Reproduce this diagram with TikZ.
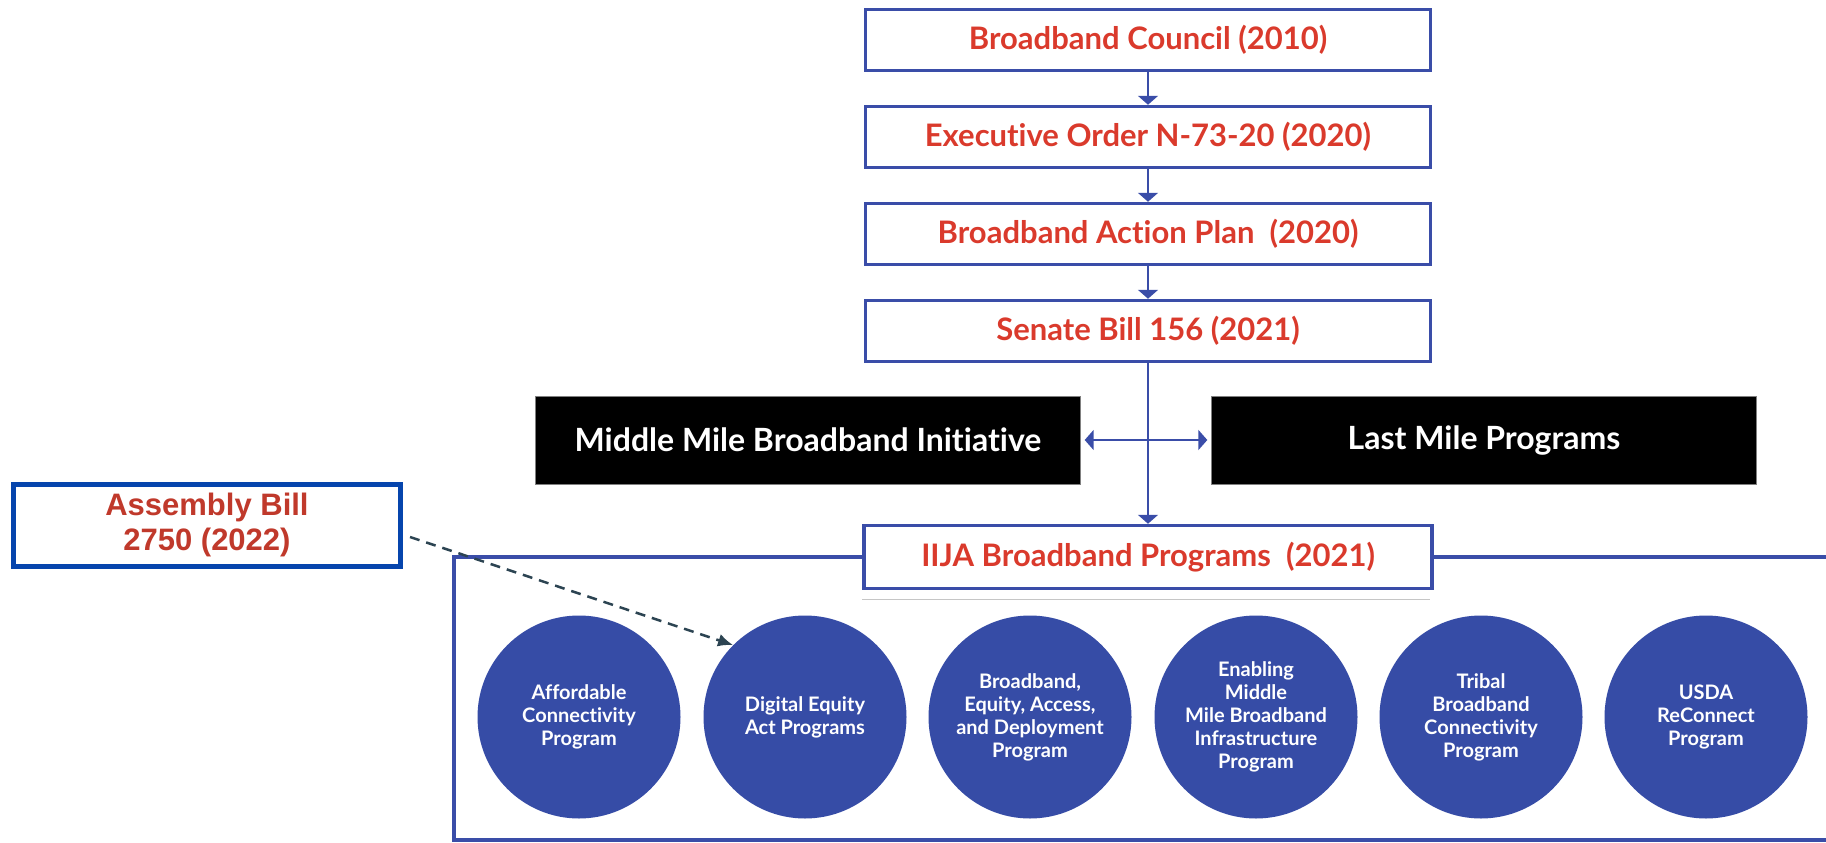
\documentclass[tikz,border=0pt]{standalone}
\usepackage{fontspec}
\setmainfont{Lato}[Ligatures=NoCommon]
\newfontfamily\arialfont{Liberation Sans}
\usetikzlibrary{arrows.meta}
\definecolor{flowblue}{HTML}{3A4DA8}
\definecolor{circleblue}{HTML}{364CA6}
\definecolor{titlered}{HTML}{DA3A2C}
\definecolor{billblue}{HTML}{0645AD}
\definecolor{billred}{HTML}{C0392B}
\definecolor{slate}{HTML}{2C4452}
\begin{document}
\begin{tikzpicture}[x=1pt,y=-1pt,
  stepbox/.style={draw=flowblue,line width=3.5pt,fill=white,minimum width=565pt,minimum height=61pt,
    text=titlered,font=\bfseries\fontsize{31}{35}\selectfont},
  blackbox/.style={draw=gray,fill=black,text=white,minimum width=545pt,minimum height=88pt,
    font=\bfseries\fontsize{32}{36}\selectfont},
  program/.style={circle,fill=circleblue,minimum size=203pt,inner sep=0pt,text=white,align=center,
    font=\bfseries\fontsize{20}{23}\selectfont},
  flow/.style={draw=flowblue,line width=2pt,-{Triangle[width=20pt,length=9pt]}}]
  \clip (0,0) rectangle (1826,843);
  \fill[white] (0,0) rectangle (1826,843);
  % chain of steps
  \node (council) at (1148,40)  [stepbox] {Broadband Council (2010)};
  \node (order)   at (1148,137) [stepbox] {Executive Order N-73-20 (2020)};
  \node (plan)    at (1148,234) [stepbox] {Broadband Action Plan\ \ (2020)};
  \node (senate)  at (1148,331) [stepbox] {Senate Bill 156 (2021)};
  \node (middle)  at (808,440)  [blackbox] {Middle Mile Broadband Initiative};
  \node (last)    at (1484,440) [blackbox] {Last Mile Programs};
  % frame round the programs
  \draw[flowblue,line width=4.5pt] (1900,557) -- (454,557) -- (454,840) -- (1900,840);
  \draw[gray!45,line width=1pt] (862,599) -- (1430,599);
  \node (iija)    at (1148,557) [stepbox,minimum width=568pt,minimum height=63pt] {IIJA Broadband Programs\ \ (2021)};
  \draw[flow] (council) -- (order);
  \draw[flow] (order) -- (plan);
  \draw[flow] (plan) -- (senate);
  \draw[flow] (senate) -- (iija);
  \draw[flow,{Triangle[width=20pt,length=9pt]}-{Triangle[width=20pt,length=9pt]},shorten <=4pt,shorten >=4pt]
    (middle) -- (last);
  % programs
  \node (affordable) at (579,717)  [program] {Affordable\\Connectivity\\Program};
  \node (digital)    at (805,717)  [program] {Digital Equity\\Act Programs};
  \node (bead)       at (1030,717) [program] {Broadband,\\Equity, Access,\\and Deployment\\Program};
  \node (enabling)   at (1256,717) [program] {Enabling\\Middle\\Mile Broadband\\Infrastructure\\Program};
  \node (tribal)     at (1481,717) [program] {Tribal\\Broadband\\Connectivity\\Program};
  \node (usda)       at (1706,717) [program] {USDA\\ReConnect\\Program};
  % assembly bill
  \node (bill) at (207,525) [draw=billblue,line width=5pt,fill=white,minimum width=387pt,minimum height=82pt,
    align=center,text=billred,font=\arialfont\bfseries\fontsize{31}{35}\selectfont] {Assembly Bill\\2750 (2022)};
  \draw[slate,line width=2.5pt,dash pattern=on 10pt off 7pt,-{Latex[length=15pt,width=13pt]}]
    ([shift={(7,12)}]bill.east) -- (digital.135);
\end{tikzpicture}
\end{document}
